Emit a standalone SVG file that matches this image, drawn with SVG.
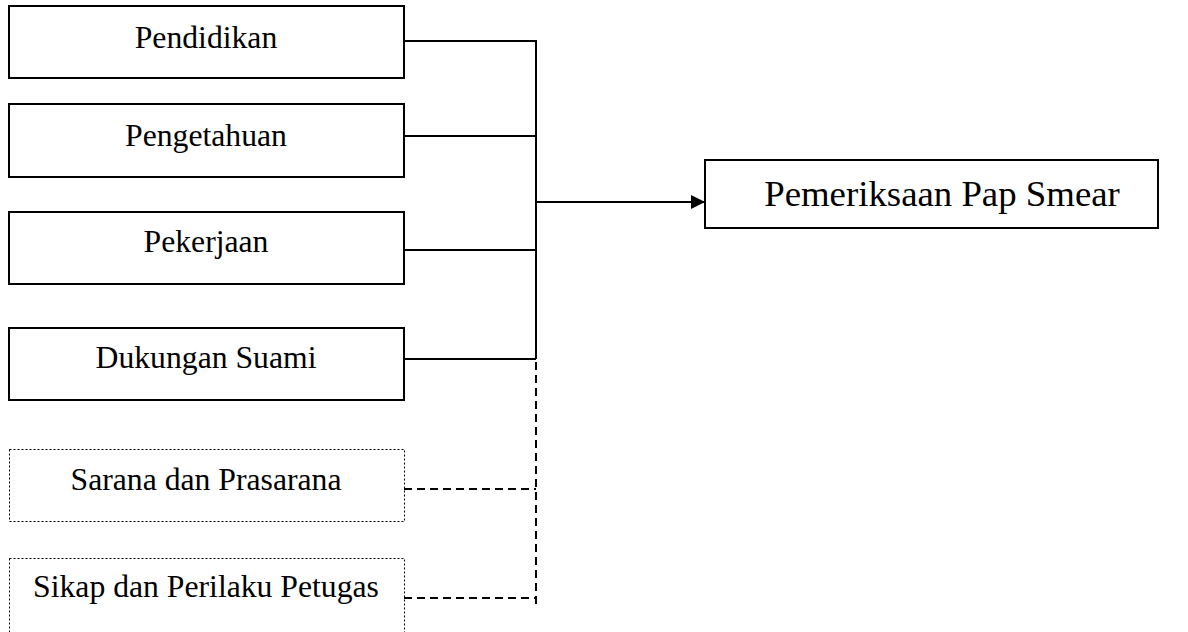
<svg xmlns="http://www.w3.org/2000/svg" width="1188" height="632" viewBox="0 0 1188 632">
<defs>
<style>
.box{fill:#fff;stroke:#000;stroke-width:2}
.dbox{fill:#fff;stroke:#000;stroke-width:1;stroke-dasharray:2 2}
.t{font-family:"Liberation Serif","Times New Roman",serif;font-size:31.7px;fill:#000;text-anchor:middle}
.tb{font-family:"Liberation Serif","Times New Roman",serif;font-size:36.8px;fill:#000;text-anchor:middle}
.ln{fill:none;stroke:#000;stroke-width:2}
.dl{fill:none;stroke:#000;stroke-width:2;stroke-dasharray:8 5}
</style>
<marker id="arr" markerWidth="14" markerHeight="14" refX="14" refY="7" orient="auto" markerUnits="userSpaceOnUse">
<path d="M0,0 L14,7 L0,14 Z" fill="#000"/>
</marker>
</defs>
<rect width="1188" height="632" fill="#fff"/>
<g id="n-pendidikan"><rect class="box" x="9" y="6" width="395" height="72"/><text class="t" x="206" y="48">Pendidikan</text></g>
<g id="n-pengetahuan"><rect class="box" x="9" y="104" width="395" height="73"/><text class="t" x="206" y="146">Pengetahuan</text></g>
<g id="n-pekerjaan"><rect class="box" x="9" y="212" width="395" height="72"/><text class="t" x="206" y="252">Pekerjaan</text></g>
<g id="n-dukungan"><rect class="box" x="9" y="328" width="395" height="72"/><text class="t" x="206" y="368">Dukungan Suami</text></g>
<g id="n-sarana"><rect class="dbox" x="9.5" y="449.5" width="395" height="72"/><text class="t" x="206" y="490">Sarana dan Prasarana</text></g>
<g id="n-sikap"><rect class="dbox" x="9.5" y="558.5" width="395" height="90"/><text class="t" x="206" y="597">Sikap dan Perilaku Petugas</text></g>
<g id="n-pap"><rect class="box" x="705" y="160" width="453" height="68"/><text class="tb" x="942" y="206">Pemeriksaan Pap Smear</text></g>
<g id="connectors">
<path class="ln" d="M404,41 H536 V359"/>
<path class="ln" d="M404,136 H536"/>
<path class="ln" d="M404,250 H536"/>
<path class="ln" d="M404,359 H536"/>
<path class="ln" d="M536,202 H705" marker-end="url(#arr)"/>
<path class="dl" d="M536,362 V606"/>
<path class="dl" d="M404,489 H536"/>
<path class="dl" d="M404,598 H536"/>
</g>
</svg>
